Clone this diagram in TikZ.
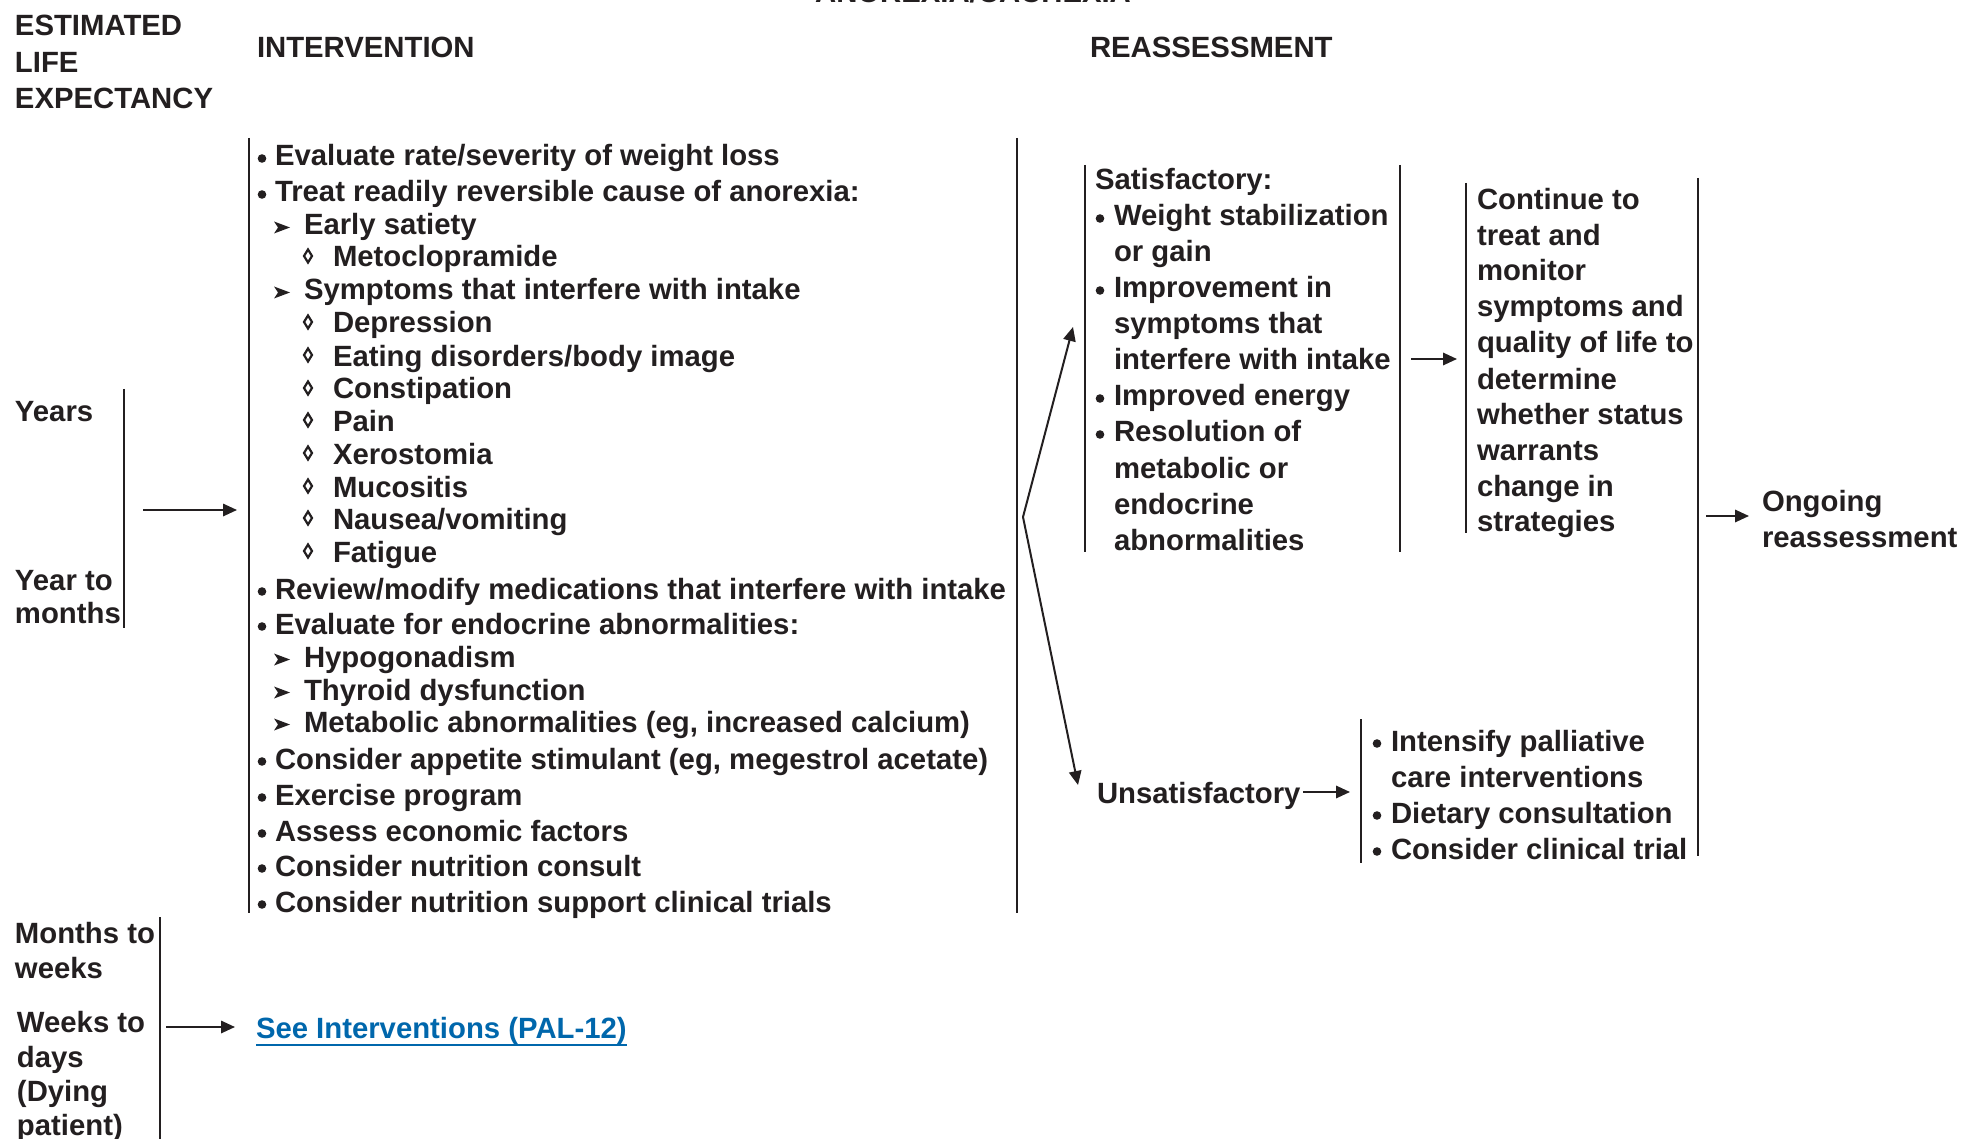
\documentclass[tikz,border=0pt]{standalone}
\usepackage{fontspec}
\setmainfont{Liberation Sans}
\usetikzlibrary{arrows.meta}
\definecolor{ink}{RGB}{35,31,32}
\definecolor{linkblue}{RGB}{0,103,172}
\newcommand{\bodysize}{\fontsize{14.65}{17}\selectfont\bfseries}

\begin{document}
\begin{tikzpicture}[x=0.5pt,y=-0.5pt,
  every node/.style={inner sep=0pt, outer sep=0pt, text=ink},
  lbl/.style={anchor=base west, font=\bodysize, yshift=-1.5pt},
  rule/.style={draw=ink, line width=1.35pt},
  conn/.style={draw=ink, line width=1pt, -{Triangle[length=7pt,width=6.2pt]}},
  bulletmark/.style={fill=ink},
  arrowmark/.style={fill=ink},
  lozmark/.style={draw=ink, line width=1.1pt}
]
\useasboundingbox (0,0) rectangle (1961,1139);
\fill[white] (0,0) rectangle (1961,1139);

% ---------- headings ----------
\node[anchor=base, font=\bodysize] (title) at (973,3) {ANOREXIA/CACHEXIA};
\node[lbl] (hdA) at (15,33) {ESTIMATED};
\node[lbl] (hdB) at (15,70) {LIFE};
\node[lbl] (hdC) at (15,106) {EXPECTANCY};
\node[lbl] (hdI) at (257,55) {INTERVENTION};
\node[lbl] (hdR) at (1090,55) {REASSESSMENT};

% ---------- life expectancy column ----------
\node[lbl] (le1) at (15,419) {Years};
\node[lbl] (le2) at (15,587) {Year to};
\node[lbl] (le3) at (15,620) {months};
\node[lbl] (le4) at (15,940) {Months to};
\node[lbl] (le5) at (15,975) {weeks};
\node[lbl] (le6) at (17,1029) {Weeks to};
\node[lbl] (le7) at (17,1064) {days};
\node[lbl] (le8) at (17,1098) {(Dying};
\node[lbl] (le9) at (17,1132) {patient)};

\draw[rule] (124,389) -- (124,628);
\draw[rule] (160,917) -- (160,1139);

\coordinate (leA) at (143,510);
\coordinate (ivIn) at (237,510);
\draw[conn] (leA) -- (ivIn);

\coordinate (leB) at (166,1027);
\coordinate (palIn) at (235,1027);
\draw[conn] (leB) -- (palIn);

\node[lbl, text=linkblue] (pal) at (256,1035) {See Interventions (PAL-12)};
\draw[linkblue, line width=1pt] ([yshift=-3.5pt]pal.base west) -- ([yshift=-3.5pt]pal.base east);

% ---------- intervention column ----------
\draw[rule] (249,138) -- (249,913);
\draw[rule] (1017,138) -- (1017,913);

% kind: b = bullet, a = arrowhead, d = lozenge
\foreach \k/\y/\t [count=\n] in {
  b/163/{Evaluate rate/severity of weight loss},
  b/199/{Treat readily reversible cause of anorexia:},
  a/232/{Early satiety},
  d/264/{Metoclopramide},
  a/297/{Symptoms that interfere with intake},
  d/330/{Depression},
  d/363/{Eating disorders/body image},
  d/396/{Constipation},
  d/428/{Pain},
  d/461/{Xerostomia},
  d/494/{Mucositis},
  d/526/{Nausea/vomiting},
  d/559/{Fatigue},
  b/596/{Review/modify medications that interfere with intake},
  b/631/{Evaluate for endocrine abnormalities:},
  a/664/{Hypogonadism},
  a/697/{Thyroid dysfunction},
  a/729/{Metabolic abnormalities (eg, increased calcium)},
  b/766/{Consider appetite stimulant (eg, megestrol acetate)},
  b/802/{Exercise program},
  b/838/{Assess economic factors},
  b/873/{Consider nutrition consult},
  b/909/{Consider nutrition support clinical trials}} {
  \if b\k
    \fill[bulletmark] (262,\y-4.5) circle (4.3);
    \node[lbl] (iv\n) at (275,\y) {\t};
  \fi
  \if a\k
    \fill[arrowmark] (274,\y-10.5) -- (290,\y-4.5) -- (274,\y+1.5) -- (278,\y-4.5) -- cycle;
    \node[lbl] (iv\n) at (304,\y) {\t};
  \fi
  \if d\k
    \draw[lozmark] (308,\y-14.5) -- (312,\y-8) -- (308,\y-1.5) -- (304,\y-8) -- cycle;
    \node[lbl] (iv\n) at (333,\y) {\t};
  \fi
}

% ---------- reassessment ----------
\coordinate (fork) at (1023,517);
\coordinate (satIn) at (1073,327);
\coordinate (unsIn) at (1078,785);
\draw[conn] (fork) -- (satIn);
\draw[conn] (fork) -- (unsIn);

% satisfactory block
\draw[rule] (1085,165) -- (1085,552);
\draw[rule] (1400,165) -- (1400,552);
\node[lbl] (sat0) at (1095,187) {Satisfactory:};
\foreach \b/\y/\t [count=\n] in {
  1/223/{Weight stabilization},
  0/259/{or gain},
  1/295/{Improvement in},
  0/331/{symptoms that},
  0/367/{interfere with intake},
  1/403/{Improved energy},
  1/439/{Resolution of},
  0/475/{metabolic or},
  0/511/{endocrine},
  0/547/{abnormalities}} {
  \if 1\b \fill[bulletmark] (1100,\y-4.5) circle (4.3); \fi
  \node[lbl] (sat\n) at (1114,\y) {\t};
}

\coordinate (satOut) at (1411,359);
\coordinate (contIn) at (1457,359);
\draw[conn] (satOut) -- (contIn);

% continue block
\draw[rule] (1466,183) -- (1466,533);
\foreach \y/\t [count=\n] in {
  207/{Continue to},
  243/{treat and},
  278/{monitor},
  314/{symptoms and},
  350/{quality of life to},
  386/{determine},
  421/{whether status},
  457/{warrants},
  493/{change in},
  528/{strategies}} {
  \node[lbl] (cont\n) at (1477,\y) {\t};
}

% common right rule and ongoing reassessment
\draw[rule] (1698,178) -- (1698,856);
\coordinate (bigOut) at (1706,516);
\coordinate (ongIn) at (1749,516);
\draw[conn] (bigOut) -- (ongIn);
\node[lbl] (ong1) at (1762,508) {Ongoing};
\node[lbl] (ong2) at (1762,544) {reassessment};

% unsatisfactory block
\node[lbl] (uns) at (1097,800) {Unsatisfactory};
\coordinate (unsOut) at (1303,792);
\coordinate (actIn) at (1350,792);
\draw[conn] (unsOut) -- (actIn);
\draw[rule] (1361,719) -- (1361,863);
\foreach \b/\y/\t [count=\n] in {
  1/748/{Intensify palliative},
  0/784/{care interventions},
  1/820/{Dietary consultation},
  1/856/{Consider clinical trial}} {
  \if 1\b \fill[bulletmark] (1377,\y-4.5) circle (4.3); \fi
  \node[lbl] (act\n) at (1391,\y) {\t};
}
\end{tikzpicture}
\end{document}
